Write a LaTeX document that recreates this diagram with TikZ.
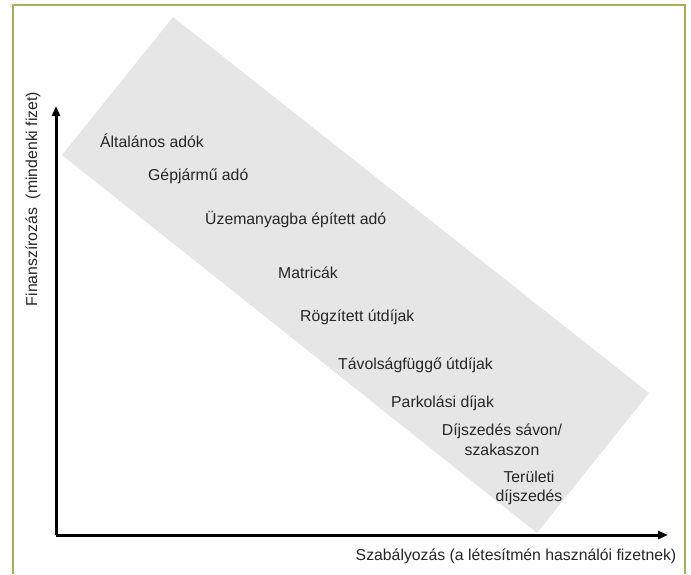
\documentclass[tikz,border=0pt]{standalone}
\usepackage{fontspec}
\setmainfont{Liberation Sans}
\usetikzlibrary{arrows.meta}
\definecolor{frameolive}{HTML}{A8B15A}
\definecolor{bandgray}{HTML}{E6E6E6}
\begin{document}
\begin{tikzpicture}[x=1pt,y=-1pt,
  lbl/.style={inner sep=0pt,font=\fontsize{15.8}{19.5}\selectfont,text=black!85},
  lblL/.style={lbl,anchor=west},
  lblC/.style={lbl,align=center},
  axis/.style={line width=3pt,-{Triangle[length=10pt,width=8pt]}}]
\useasboundingbox (0,0) rectangle (691,574);
% frame
\draw[frameolive,line width=2.2pt] (13,574) -- (13,5) -- (685,5) -- (685,574);
% gray band
\fill[bandgray] (173,17) -- (649,393) -- (537,533) -- (62,155) -- cycle;
% axes
\coordinate (O) at (56,535);
\coordinate (Ytip) at (56,106);
\coordinate (Xtip) at (668,535);
\draw[axis] (O) -- (Ytip);
\draw[axis] (O) -- (Xtip);
% axis labels
\node[lbl,rotate=90] (ylab) at (33,199) {Finanszírozás\ \ (mindenki fizet)};
\node[lbl] (xlab) at (516,556) {Szabályozás (a létesítmén használói fizetnek)};
% items
\node[lblL] (n1) at (100,141) {Általános adók};
\node[lblL] (n2) at (148,176) {Gépjármű adó};
\node[lblL] (n3) at (205,220) {Üzemanyagba épített adó};
\node[lblL] (n4) at (278,273) {Matricák};
\node[lblL] (n5) at (300,317) {Rögzített útdíjak};
\node[lblL] (n6) at (338,365) {Távolságfüggő útdíjak};
\node[lblL] (n7) at (391,403) {Parkolási díjak};
\node[lblC] (n8) at (502,440) {Díjszedés sávon/\\szakaszon};
\node[lblC] (n9) at (529,488) {Területi\\díjszedés};
\end{tikzpicture}
\end{document}
